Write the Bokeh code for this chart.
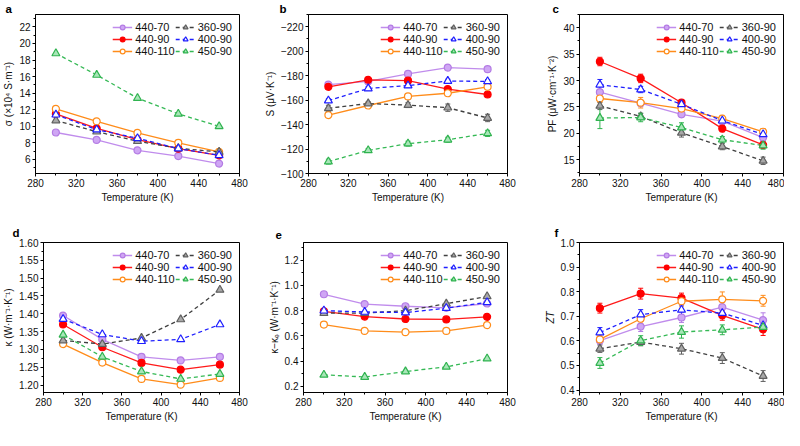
from bokeh.plotting import figure
from bokeh.layouts import row, column
from bokeh.models import (Range1d, SingleIntervalTicker, PrintfTickFormatter, CustomJSTickFormatter,
                          Legend, LegendItem, Whisker, ColumnDataSource, TeeHead)
from bokeh.embed import file_html
from bokeh.resources import INLINE

temperature = [300, 340, 380, 420, 460]
labels = ["440-70", "440-90", "440-110", "360-90", "400-90", "450-90"]

# (a) electrical conductivity, x10^4 S/m
sigma_440_70 = [9.25, 8.35, 7.1, 6.4, 5.5]
sigma_440_90 = [11.5, 9.75, 8.4, 7.3, 6.5]
sigma_440_110 = [12.1, 10.6, 9.2, 8.0, 6.9]
sigma_360_90 = [10.7, 9.35, 8.2, 7.35, 6.9]
sigma_400_90 = [11.4, 9.6, 8.55, 7.3, 6.5]
sigma_450_90 = [18.8, 16.2, 13.4, 11.5, 10.0]

# (b) Seebeck coefficient, uV/K
seebeck_440_70 = [-172.7, -175.3, -181.4, -186.6, -185.3]
seebeck_440_90 = [-170.9, -176.6, -175.9, -169.0, -164.6]
seebeck_440_110 = [-147.8, -155.6, -163.0, -165.6, -170.9]
seebeck_360_90 = [-153.3, -157.2, -155.9, -153.8, -145.4]
seebeck_400_90 = [-159.6, -169.5, -171.9, -175.6, -175.3]
seebeck_450_90 = [-109.7, -118.9, -124.4, -127.6, -132.8]
seebeck_err_440_70 = [1.0, 1.0, 1.0, 1.0, 1.0]
seebeck_err_440_90 = [1.5, 1.5, 1.5, 1.5, 1.5]
seebeck_err_440_110 = [1.5, 1.0, 1.0, 1.0, 1.0]
seebeck_err_360_90 = [2.5, 1.5, 2.0, 3.0, 3.0]
seebeck_err_400_90 = [1.5, 1.5, 1.5, 1.5, 1.5]
seebeck_err_450_90 = [2.0, 1.5, 2.0, 2.0, 2.5]

# (c) power factor, uW cm^-1 K^-2
pf_440_70 = [27.8, 25.7, 23.6, 22.3, 19.2]
pf_440_90 = [33.6, 30.4, 25.8, 20.9, 17.8]
pf_440_110 = [26.6, 25.8, 24.7, 22.8, 20.3]
pf_360_90 = [25.2, 23.2, 20.1, 17.5, 14.8]
pf_400_90 = [29.2, 28.3, 25.5, 22.4, 19.8]
pf_450_90 = [22.9, 23.0, 21.1, 18.8, 17.7]
pf_err_440_70 = [0.5, 0.5, 0.5, 0.6, 0.6]
pf_err_440_90 = [0.8, 0.8, 0.6, 0.6, 0.6]
pf_err_440_110 = [0.8, 1.0, 0.6, 0.6, 0.6]
pf_err_360_90 = [0.7, 0.6, 0.8, 0.6, 0.7]
pf_err_400_90 = [1.0, 0.6, 0.5, 0.6, 0.6]
pf_err_450_90 = [2.0, 0.8, 0.9, 0.6, 0.7]

# (d) total thermal conductivity, W m^-1 K^-1
kappa_440_70 = [1.395, 1.328, 1.279, 1.269, 1.279]
kappa_440_90 = [1.370, 1.306, 1.262, 1.243, 1.257]
kappa_440_110 = [1.315, 1.263, 1.217, 1.201, 1.220]
kappa_360_90 = [1.325, 1.315, 1.332, 1.384, 1.467]
kappa_400_90 = [1.385, 1.342, 1.323, 1.328, 1.370]
kappa_450_90 = [1.341, 1.279, 1.238, 1.217, 1.231]

# (e) kappa - kappa_e, W m^-1 K^-1
kl_440_70 = [0.930, 0.852, 0.835, 0.823, 0.857]
kl_440_90 = [0.794, 0.753, 0.734, 0.731, 0.751]
kl_440_110 = [0.690, 0.640, 0.630, 0.640, 0.686]
kl_360_90 = [0.780, 0.780, 0.800, 0.855, 0.913]
kl_400_90 = [0.800, 0.790, 0.785, 0.820, 0.866]
kl_450_90 = [0.292, 0.275, 0.318, 0.355, 0.420]

# (f) figure of merit ZT
zt_440_70 = [0.601, 0.658, 0.695, 0.737, 0.684]
zt_440_90 = [0.733, 0.792, 0.774, 0.704, 0.647]
zt_440_110 = [0.606, 0.690, 0.761, 0.769, 0.763]
zt_360_90 = [0.568, 0.595, 0.568, 0.530, 0.457]
zt_400_90 = [0.634, 0.707, 0.726, 0.713, 0.663]
zt_450_90 = [0.510, 0.601, 0.636, 0.645, 0.656]
zt_err_440_70 = [0.015, 0.02, 0.02, 0.02, 0.03]
zt_err_440_90 = [0.02, 0.022, 0.02, 0.02, 0.025]
zt_err_440_110 = [0.015, 0.02, 0.02, 0.03, 0.022]
zt_err_360_90 = [0.015, 0.015, 0.022, 0.022, 0.022]
zt_err_400_90 = [0.02, 0.02, 0.02, 0.02, 0.02]
zt_err_450_90 = [0.022, 0.02, 0.025, 0.02, 0.02]

FONT = "Liberation Sans"
STYLE = {
    "440-70": dict(line="#c08cec", dash="solid", marker="circle", fill="#cfa6f4", edge="#b47ce4", size=7),
    "440-90": dict(line="#ff1a1a", dash="solid", marker="circle", fill="#ff0000", edge="#ff0000", size=7),
    "440-110": dict(line="#ff8c1a", dash="solid", marker="circle", fill="white", edge="#ff8c1a", size=7),
    "360-90": dict(line="#404040", dash="4 3", marker="triangle", fill="#a8a8a8", edge="#606060", size=8),
    "400-90": dict(line="#1f1fff", dash="4 3", marker="triangle", fill="white", edge="#1f1fff", size=8),
    "450-90": dict(line="#35b955", dash="4 3", marker="triangle", fill="#a8e6b8", edge="#30b350", size=8),
}


def make_panel(letter, ylabel, ys, errs, y0, y1, interval, formatter, width, height,
               bl, br, bt, bb, letter_dx, letter_standoff, ylabel_style="normal"):
    p = figure(width=width, height=height, x_range=Range1d(280, 480), y_range=Range1d(y0, y1),
               output_backend="svg", toolbar_location=None,
               min_border_left=bl, min_border_right=br, min_border_top=bt, min_border_bottom=bb)
    p.grid.visible = False
    p.outline_line_color = "black"
    p.outline_line_alpha = 1.0
    p.outline_line_width = 1
    p.background_fill_color = "white"
    p.border_fill_color = "white"

    p.title.text = letter
    p.title.align = "left"
    p.title.offset = letter_dx
    p.title.standoff = letter_standoff
    p.title.text_font = FONT
    p.title.text_font_size = "11.5px"
    p.title.text_font_style = "bold"
    p.title.text_color = "black"

    p.xaxis.ticker = SingleIntervalTicker(interval=40, num_minor_ticks=2)
    p.yaxis.ticker = SingleIntervalTicker(interval=interval, num_minor_ticks=2)
    p.yaxis.formatter = formatter
    for ax in (p.xaxis[0], p.yaxis[0]):
        ax.axis_line_color = "black"
        ax.major_tick_line_color = "black"
        ax.minor_tick_line_color = "black"
        ax.major_tick_in = 0
        ax.major_tick_out = 3
        ax.minor_tick_in = 0
        ax.minor_tick_out = 2
        ax.major_label_text_font = FONT
        ax.major_label_text_font_size = "10px"
        ax.major_label_text_color = "#111111"
        ax.major_label_standoff = 2
        ax.axis_label_text_font = FONT
        ax.axis_label_text_font_size = "10px"
        ax.axis_label_text_color = "#111111"
        ax.axis_label_standoff = 2
    p.xaxis.axis_label = "Temperature (K)"
    p.xaxis.axis_label_text_font_style = "normal"
    p.yaxis.axis_label = ylabel
    p.yaxis.axis_label_text_font_style = ylabel_style

    items = []
    for lab, y, e in zip(labels, ys, errs):
        st = STYLE[lab]
        src = ColumnDataSource(dict(x=temperature, y=y))
        if e is not None:
            lo = [a - b for a, b in zip(y, e)]
            hi = [a + b for a, b in zip(y, e)]
            wsrc = ColumnDataSource(dict(x=temperature, lo=lo, hi=hi))
            w = Whisker(source=wsrc, base="x", lower="lo", upper="hi",
                        line_color=st["edge"], line_width=1,
                        upper_head=TeeHead(size=5, line_color=st["edge"], line_width=1),
                        lower_head=TeeHead(size=5, line_color=st["edge"], line_width=1))
            p.add_layout(w)
        lr = p.line("x", "y", source=src, line_color=st["line"], line_width=1.3, line_dash=st["dash"])
        sr = p.scatter("x", "y", source=src, marker=st["marker"], size=st["size"],
                       fill_color=st["fill"], line_color=st["edge"], line_width=1.2)
        items.append(LegendItem(label=lab, renderers=[lr, sr]))

    legend = Legend(items=items, ncols=2, location="top_right")
    legend.border_line_alpha = 0
    legend.background_fill_alpha = 0
    legend.margin = 5
    legend.padding = 2
    legend.spacing = 0
    legend.glyph_width = 20
    legend.glyph_height = 12
    legend.label_height = 12
    legend.label_width = 30
    legend.label_standoff = 3
    legend.label_text_font = FONT
    legend.label_text_font_size = "11px"
    legend.label_text_color = "#111111"
    p.add_layout(legend)
    return p


TOP_H = 210
BOT_H = 214

pa = make_panel("a", "σ (×10⁴ S·m⁻¹)",
                [sigma_440_70, sigma_440_90, sigma_440_110, sigma_360_90, sigma_400_90, sigma_450_90],
                [None] * 6, 4.3, 23.5, 2, PrintfTickFormatter(format="%d"),
                261, TOP_H, 30, 22, 13, 37, -30, 0)
pb = make_panel("b", "S (μV·K⁻¹)",
                [seebeck_440_70, seebeck_440_90, seebeck_440_110, seebeck_360_90, seebeck_400_90, seebeck_450_90],
                [seebeck_err_440_70, seebeck_err_440_90, seebeck_err_440_110, seebeck_err_360_90,
                 seebeck_err_400_90, seebeck_err_450_90],
                -100, -230, 20,
                CustomJSTickFormatter(code="return tick.toFixed(0).replace('-', '\u2212');"),
                261, TOP_H, 42, 15, 13, 37, -29, 0)
pc = make_panel("c", "PF (μW·cm⁻¹·K⁻²)",
                [pf_440_70, pf_440_90, pf_440_110, pf_360_90, pf_400_90, pf_450_90],
                [pf_err_440_70, pf_err_440_90, pf_err_440_110, pf_err_360_90, pf_err_400_90, pf_err_450_90],
                12.4, 42.5, 5, PrintfTickFormatter(format="%d"),
                262, TOP_H, 57, 1, 13, 37, -27, 0)
pd = make_panel("d", "κ (W·m⁻¹·K⁻¹)",
                [kappa_440_70, kappa_440_90, kappa_440_110, kappa_360_90, kappa_400_90, kappa_450_90],
                [None] * 6, 1.179, 1.60, 0.05, PrintfTickFormatter(format="%.2f"),
                261, BOT_H, 30, 22, 32, 28, -31, 8)
pe = make_panel("e", "κ−κₑ (W·m⁻¹·K⁻¹)",
                [kl_440_70, kl_440_90, kl_440_110, kl_360_90, kl_400_90, kl_450_90],
                [None] * 6, 0.152, 1.34, 0.2, PrintfTickFormatter(format="%.1f"),
                261, BOT_H, 42, 15, 32, 28, -28, 8)
pf = make_panel("f", "ZT",
                [zt_440_70, zt_440_90, zt_440_110, zt_360_90, zt_400_90, zt_450_90],
                [zt_err_440_70, zt_err_440_90, zt_err_440_110, zt_err_360_90, zt_err_400_90, zt_err_450_90],
                0.39, 1.0, 0.1, PrintfTickFormatter(format="%.1f"),
                262, BOT_H, 57, 1, 32, 28, -25, 8, ylabel_style="italic")

layout = column(row(pa, pb, pc), row(pd, pe, pf))
open("out.html", "w").write(file_html(layout, INLINE))
